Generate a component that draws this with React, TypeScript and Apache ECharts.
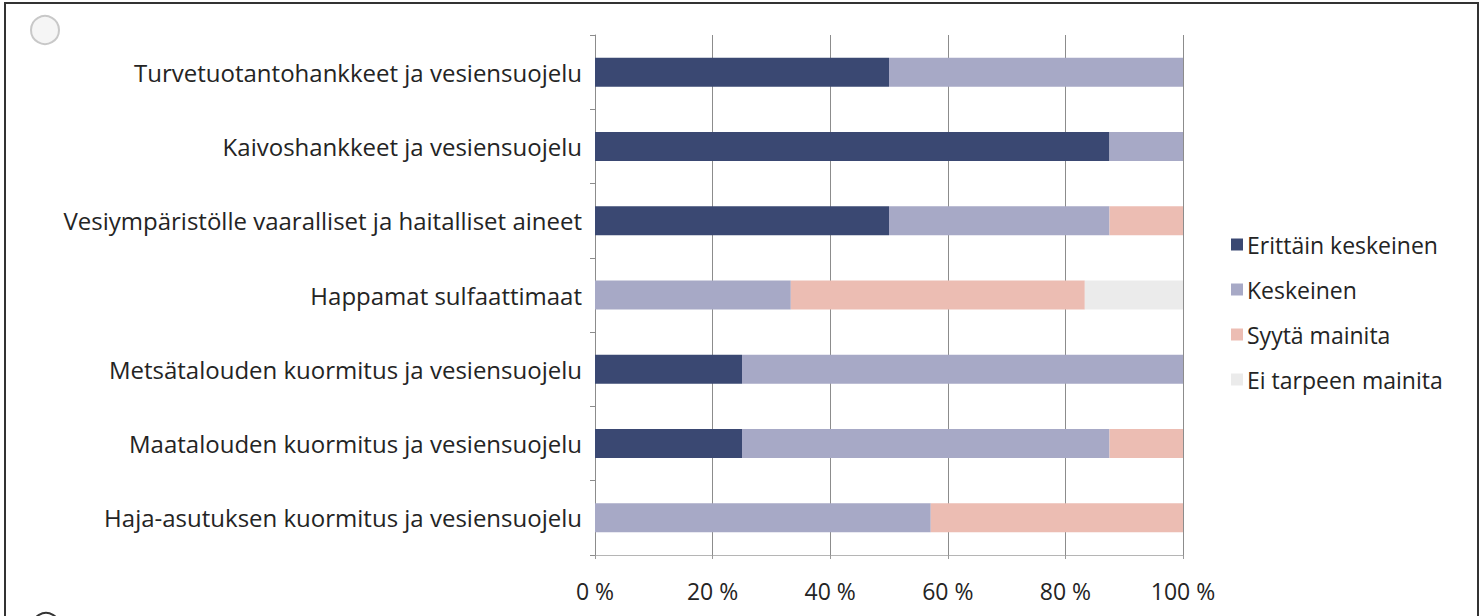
import React, { useEffect, useRef } from "react";
import * as echarts from "echarts";

const categories = [
  "Turvetuotantohankkeet ja vesiensuojelu",
  "Kaivoshankkeet ja vesiensuojelu",
  "Vesiympäristölle vaaralliset ja haitalliset aineet",
  "Happamat sulfaattimaat",
  "Metsätalouden kuormitus ja vesiensuojelu",
  "Maatalouden kuormitus ja vesiensuojelu",
  "Haja-asutuksen kuormitus ja vesiensuojelu",
];

const seriesNames = ["Erittäin keskeinen", "Keskeinen", "Syytä mainita", "Ei tarpeen mainita"];
const erittainKeskeinen = [50, 87.5, 50, 0, 25, 25, 0];
const keskeinen = [50, 12.5, 37.5, 33.3, 75, 62.5, 57.1];
const syytaMainita = [0, 0, 12.5, 50, 0, 12.5, 42.9];
const eiTarpeenMainita = [0, 0, 0, 16.7, 0, 0, 0];
const seriesColors = ["#3a4872", "#a7a9c6", "#ecbdb3", "#ebebeb"];
const xTicks = [0, 20, 40, 60, 80, 100];

const FONT = "Open Sans";
const TEXT = "#242424";

export default function App() {
  const ref = useRef<HTMLDivElement>(null);
  useEffect(() => {
    if (!ref.current) return;
    const chart = echarts.init(ref.current, undefined, { renderer: "svg" });
    const values = [erittainKeskeinen, keskeinen, syytaMainita, eiTarpeenMainita];
    chart.setOption({
      animation: false,
      backgroundColor: "#ffffff",
      textStyle: { fontFamily: FONT },
      grid: { left: 595, right: 297, top: 35, bottom: 61, containLabel: false },
      legend: {
        orient: "vertical",
        left: 1226,
        top: 228,
        itemWidth: 12,
        itemHeight: 12,
        itemGap: 22,
        icon: "rect",
        textStyle: { fontFamily: FONT, fontSize: 23, color: TEXT, padding: [0, 0, 0, -1] },
        data: seriesNames,
      },
      xAxis: {
        type: "value",
        min: 0,
        max: xTicks[xTicks.length - 1],
        interval: xTicks[1] - xTicks[0],
        axisLine: { show: true, lineStyle: { color: "#b5b5b5", width: 1 } },
        axisTick: { show: true, length: 4, lineStyle: { color: "#999" } },
        splitLine: { show: true, lineStyle: { color: "#8c8c8c", width: 1 } },
        axisLabel: {
          formatter: "{value} %",
          fontFamily: FONT,
          fontSize: 23,
          color: TEXT,
          margin: 24,
        },
      },
      yAxis: {
        type: "category",
        inverse: true,
        data: categories,
        axisLine: { show: true, lineStyle: { color: "#8c8c8c", width: 1 } },
        axisTick: { show: true, length: 5, lineStyle: { color: "#8c8c8c" } },
        axisLabel: { fontFamily: FONT, fontSize: 24, color: TEXT, margin: 13 },
      },
      series: seriesNames.map((name, i) => ({
        name,
        type: "bar",
        stack: "total",
        barWidth: 29,
        itemStyle: { color: seriesColors[i] },
        data: values[i],
      })),
      graphic: [
        {
          type: "rect",
          shape: { x: 5, y: 3, width: 1473, height: 640 },
          style: { fill: "none", stroke: "#333", lineWidth: 2 },
          silent: true,
        },
        {
          type: "circle",
          shape: { cx: 45, cy: 30, r: 14 },
          style: { fill: "#f5f5f5", stroke: "#c8c8c8", lineWidth: 2 },
          silent: true,
        },
        {
          type: "circle",
          shape: { cx: 46, cy: 627, r: 14 },
          style: { fill: "#ffffff", stroke: "#333", lineWidth: 2 },
          silent: true,
        },
      ],
    });
    return () => chart.dispose();
  }, []);
  return (
    <div
      ref={ref}
      style={{ position: "absolute", left: 0, top: 0, width: 1480, height: 616 }}
    />
  );
}
